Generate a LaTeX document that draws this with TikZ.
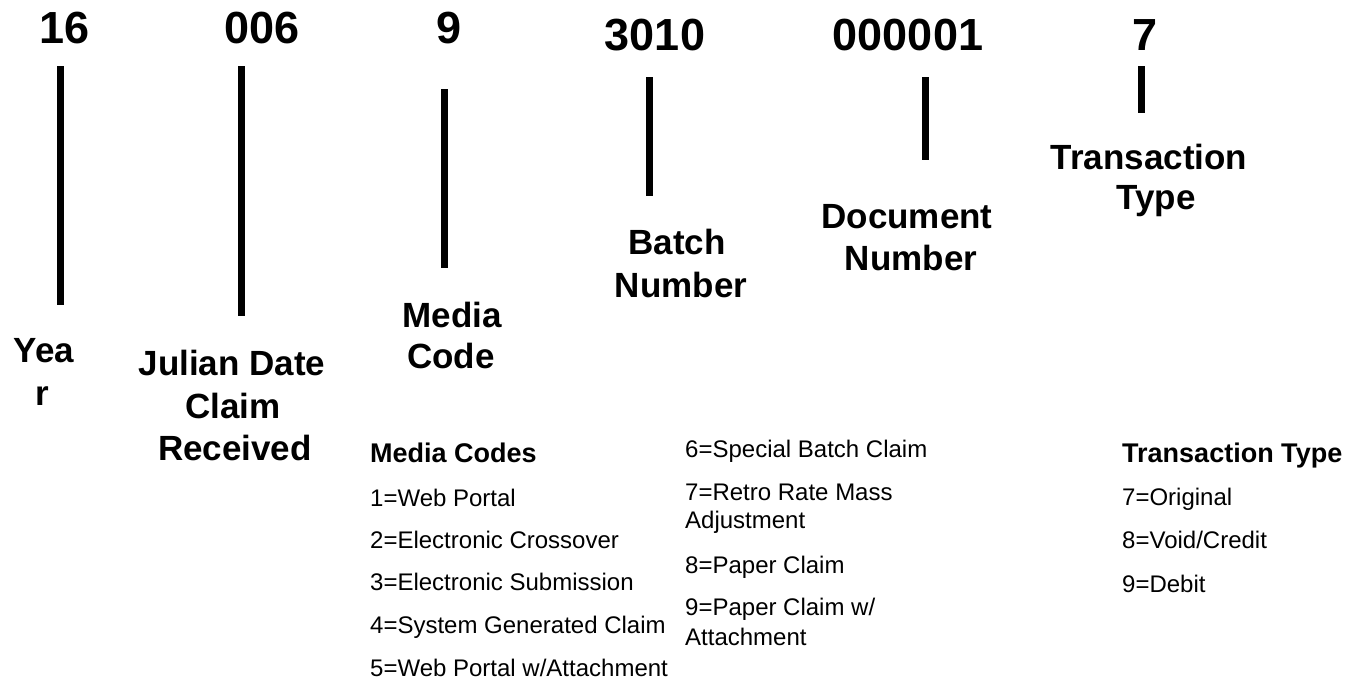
\documentclass[tikz,border=0pt]{standalone}
\usepackage{fontspec}
\setmainfont{Liberation Sans}
\begin{document}
\begin{tikzpicture}[x=1pt,y=-1pt,
  num/.style={font=\fontsize{45}{54}\selectfont\bfseries, anchor=base, inner sep=0pt},
  lab/.style={font=\fontsize{35}{42}\selectfont\bfseries, anchor=base, inner sep=0pt},
  head/.style={font=\fontsize{27}{32}\selectfont\bfseries, anchor=base west, inner sep=0pt},
  item/.style={font=\fontsize{24}{28}\selectfont, anchor=base west, inner sep=0pt},
  bar/.style={line width=7pt}]
\useasboundingbox[fill=white] (0,0) rectangle (1358,681);

% numbers
\node[num] (n1) at (65,43) {16};
\node[num] (n2) at (262,43) {006};
\node[num] (n3) at (449,43) {9};
\node[num] (n4) at (655,50) {3010};
\node[num] (n5) at (908,50) {000001};
\node[num] (n6) at (1145,50) {7};

% bars
\coordinate (b1t) at (60,66);   \coordinate (b1b) at (60,305);
\coordinate (b2t) at (241,66);  \coordinate (b2b) at (241,316);
\coordinate (b3t) at (444,89);  \coordinate (b3b) at (444,268);
\coordinate (b4t) at (649,77);  \coordinate (b4b) at (649,196);
\coordinate (b5t) at (925,77);  \coordinate (b5b) at (925,160);
\coordinate (b6t) at (1141,66); \coordinate (b6b) at (1141,113);
\draw[bar] (b1t) -- (b1b);
\draw[bar] (b2t) -- (b2b);
\draw[bar] (b3t) -- (b3b);
\draw[bar] (b4t) -- (b4b);
\draw[bar] (b5t) -- (b5b);
\draw[bar] (b6t) -- (b6b);

% labels
\node[lab] (l1a) at (44,362) {Yea};
\node[lab] (l1b) at (42,405) {r};
\node[lab] (l2a) at (232,375) {Julian Date};
\node[lab] (l2b) at (233,418) {Claim};
\node[lab] (l2c) at (235,460) {Received};
\node[lab] (l3a) at (452,327) {Media};
\node[lab] (l3b) at (451,368) {Code};
\node[lab] (l4a) at (677,254) {Batch};
\node[lab] (l4b) at (681,297) {Number};
\node[lab] (l5a) at (907,228) {Document};
\node[lab] (l5b) at (911,270) {Number};
\node[lab] (l6a) at (1149,169) {Transaction};
\node[lab] (l6b) at (1156,209) {Type};

% media codes column 1
\node[head] (mh) at (370,462) {Media Codes};
\node[item] (m1) at (370,506) {1=Web Portal};
\node[item] (m2) at (370,548) {2=Electronic Crossover};
\node[item] (m3) at (370,590) {3=Electronic Submission};
\node[item] (m4) at (370,633) {4=System Generated Claim};
\node[item] (m5) at (370,676) {5=Web Portal w/Attachment};

% media codes column 2
\node[item] (m6) at (685,457) {6=Special Batch Claim};
\node[item] (m7a) at (685,500) {7=Retro Rate Mass};
\node[item] (m7b) at (685,528) {Adjustment};
\node[item] (m8) at (685,573) {8=Paper Claim};
\node[item] (m9a) at (685,615) {9=Paper Claim w/};
\node[item] (m9b) at (685,645) {Attachment};

% transaction types
\node[head] (th) at (1122,462) {Transaction Type};
\node[item] (t7) at (1122,505) {7=Original};
\node[item] (t8) at (1122,548) {8=Void/Credit};
\node[item] (t9) at (1122,592) {9=Debit};
\end{tikzpicture}
\end{document}
